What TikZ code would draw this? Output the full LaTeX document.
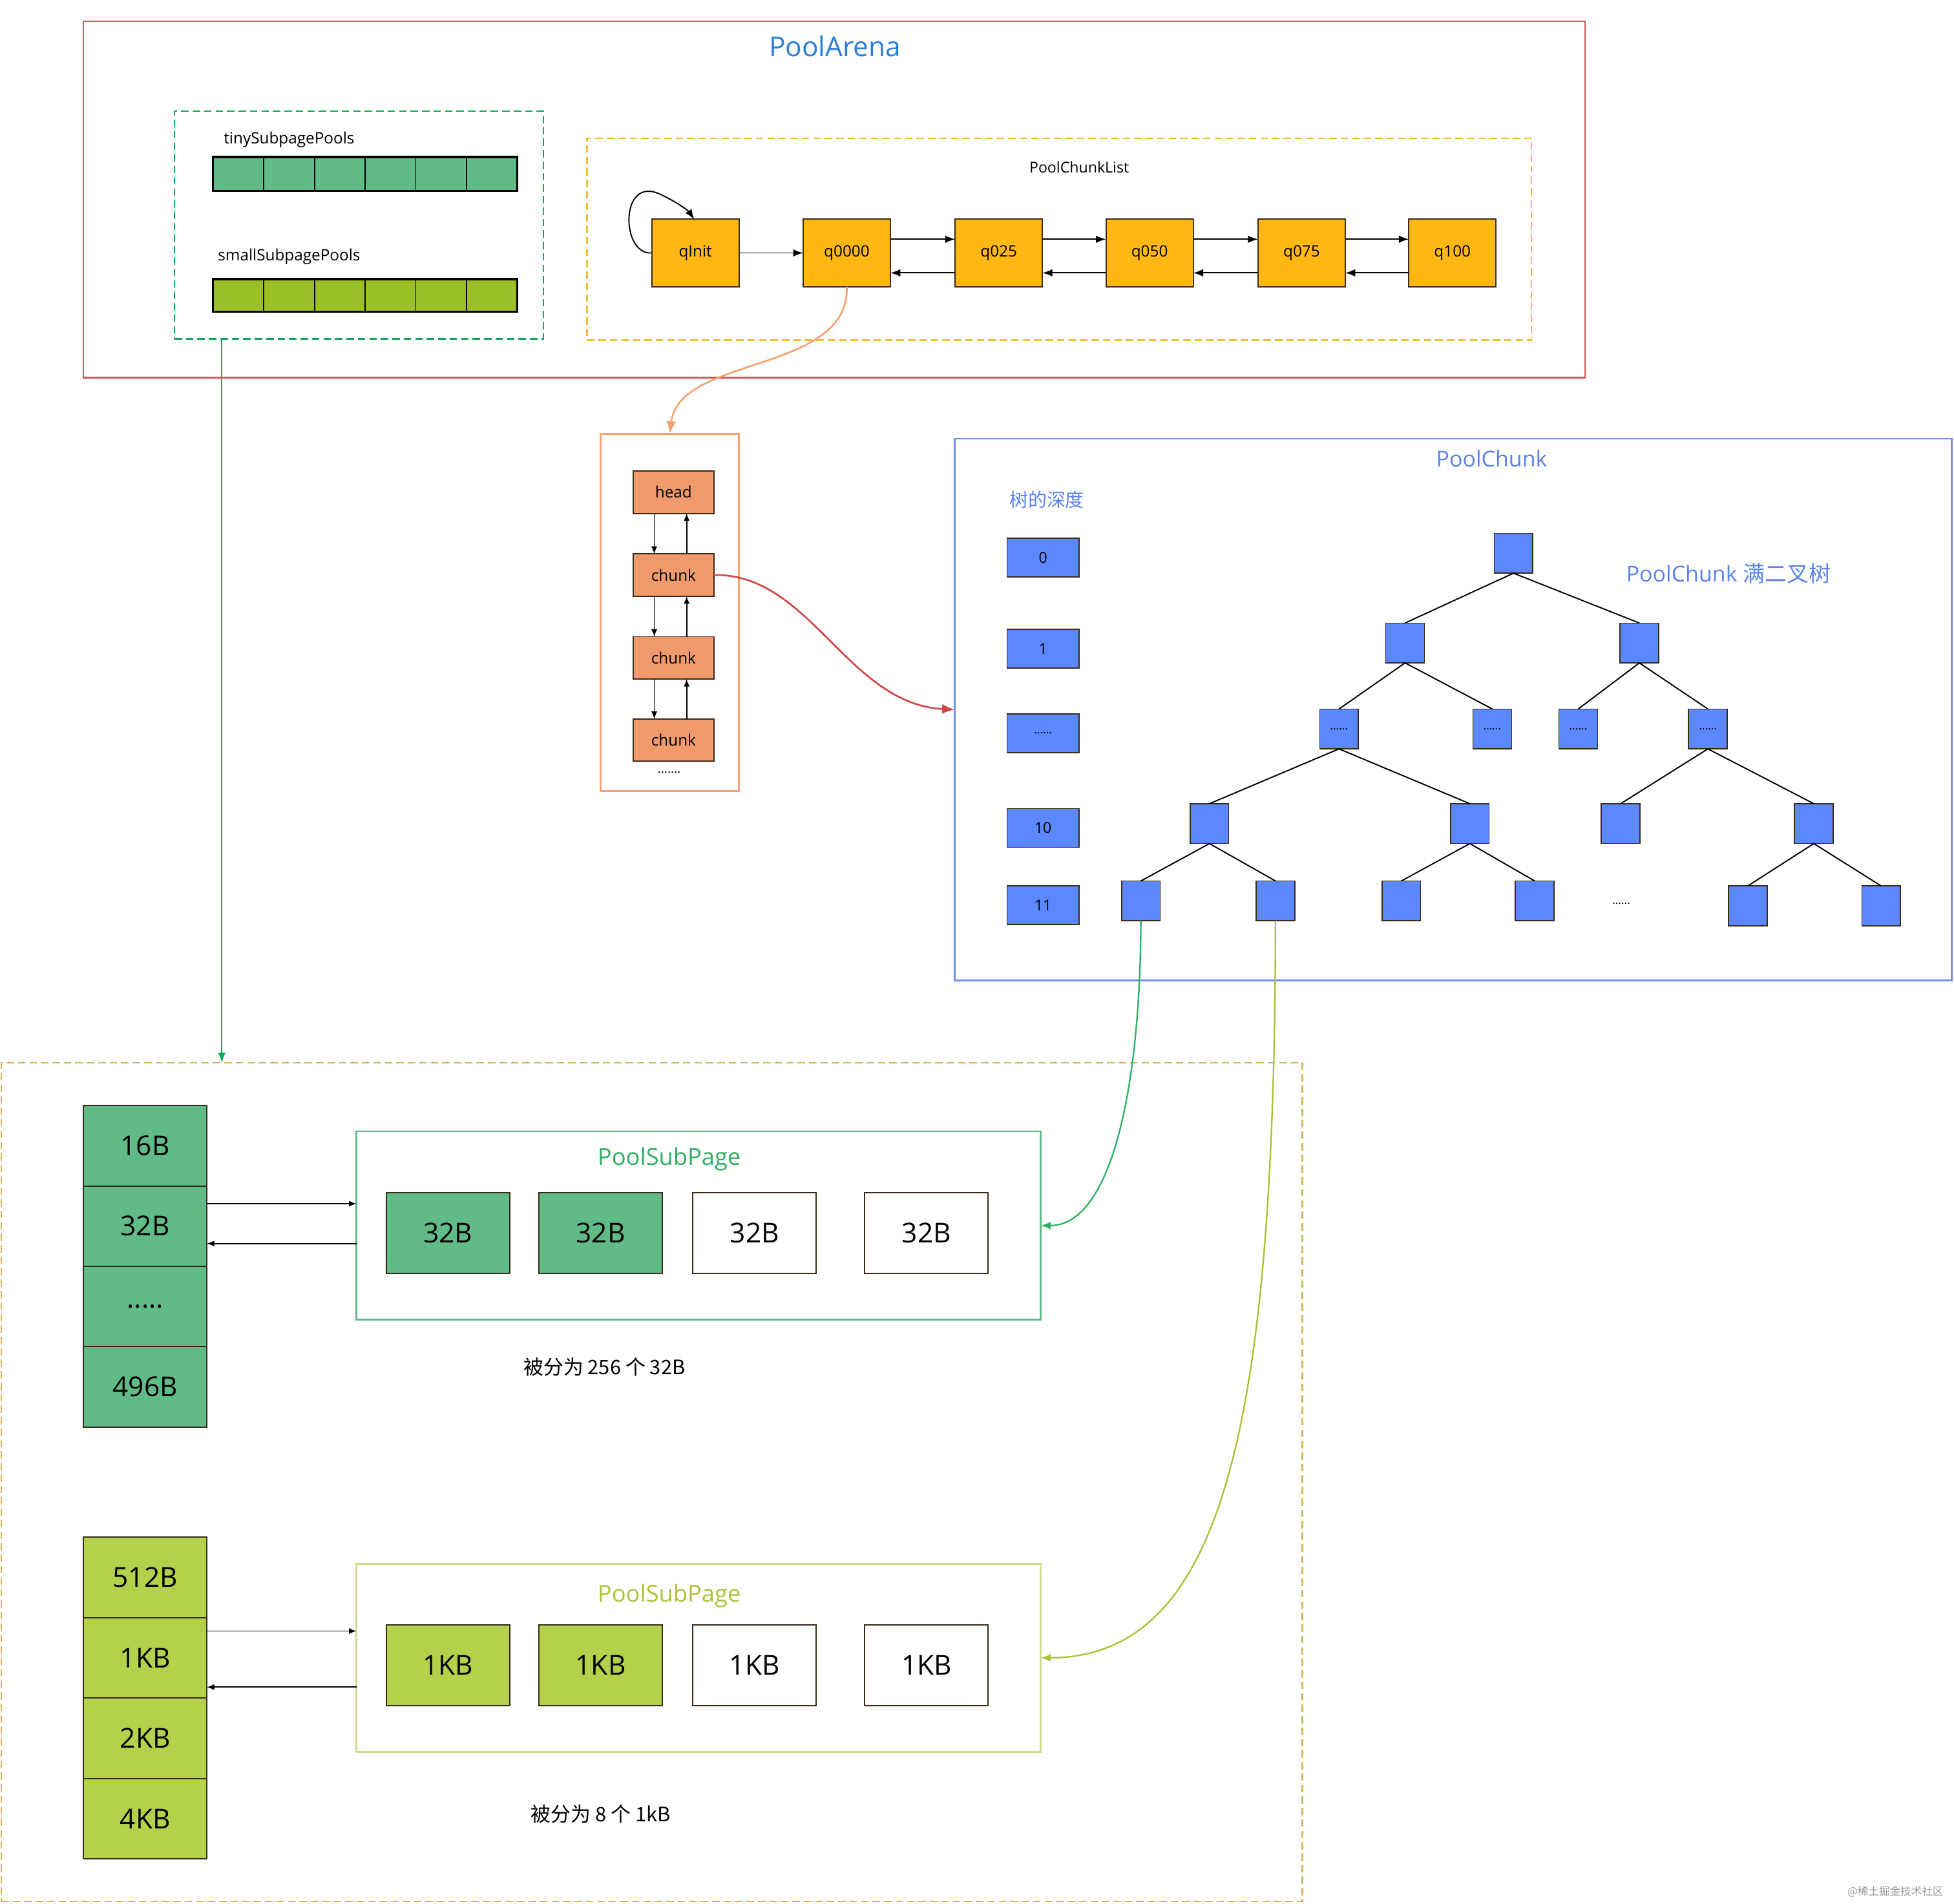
\documentclass[tikz,border=0pt]{standalone}
\usepackage{fontspec}
\setmainfont{Open Sans}
\newfontfamily\cjk{Noto Sans CJK SC}
\usetikzlibrary{arrows.meta}
\definecolor{arenared}{HTML}{D25656}
\definecolor{titleblue}{HTML}{2A7FDB}
\definecolor{dgreen}{HTML}{0FA958}
\definecolor{dgold}{HTML}{F0C030}
\definecolor{poolgreen}{HTML}{61BB87}
\definecolor{poololive}{HTML}{9BBF27}
\definecolor{qyellow}{HTML}{FFB713}
\definecolor{dark}{HTML}{3A2A1A}
\definecolor{corange}{HTML}{F19A6B}
\definecolor{clborder}{HTML}{F4A272}
\definecolor{redarrow}{HTML}{D04848}
\definecolor{chunkblue}{HTML}{7090F0}
\definecolor{chunktext}{HTML}{5B82EC}
\definecolor{tblue}{HTML}{5B87FF}
\definecolor{bgold}{HTML}{D9B45A}
\definecolor{kgreen}{HTML}{B3D14B}
\definecolor{sponeborder}{HTML}{62BB88}
\definecolor{sponetext}{HTML}{2EAD63}
\definecolor{sptwoborder}{HTML}{CCDE8C}
\definecolor{sptwotext}{HTML}{A8C43A}
\definecolor{arrowgreen}{HTML}{2DAF64}
\definecolor{arrowolive}{HTML}{A5C332}
\tikzset{
  box/.style={draw, inner sep=0pt, outer sep=0pt},
  frame/.style={inner sep=0pt, outer sep=0pt, line width=0.6pt},
  qbox/.style={box, draw=dark, fill=qyellow, line width=0.5pt, minimum width=35pt, minimum height=27pt, font=\fontsize{6.3}{7}\selectfont},
  cbox/.style={box, draw=dark, fill=corange, line width=0.5pt, minimum width=32.5pt, minimum height=17pt, font=\fontsize{6.3}{7}\selectfont},
  tnode/.style={box, draw=dark, fill=tblue, line width=0.4pt, minimum width=15.5pt, minimum height=16pt, font=\fontsize{4.5}{5}\selectfont},
  dnode/.style={tnode, minimum width=29pt, minimum height=15.5pt, font=\fontsize{6}{7}\selectfont},
  szcell/.style={box, draw=dark, line width=0.5pt, minimum width=49.5pt, minimum height=32.25pt, font=\fontsize{11}{13}\selectfont},
  pcell/.style={box, draw=dark, line width=0.5pt, minimum width=49.5pt, minimum height=32.5pt, font=\fontsize{11}{13}\selectfont},
  arr/.style={-{Latex[length=4pt,width=3pt]}, line width=0.5pt},
  smallarr/.style={-{Latex[length=3pt,width=2.4pt]}, line width=0.45pt},
  lbl/.style={inner sep=0pt, font=\fontsize{6.3}{7}\selectfont},
}
\begin{document}
\begin{tikzpicture}[x=0.5pt,y=-0.5pt]
\useasboundingbox (0,0) rectangle (1568,1528);

% ---------- PoolArena ----------
\node[frame, draw=arenared, minimum width=602.5pt, minimum height=143pt] (arena) at (669.5,160) {};
\node[inner sep=0pt, text=titleblue, font=\fontsize{11}{13}\selectfont] (arenatitle) at (670,37) {PoolArena};

% subpage pools
\node[frame, draw=dgreen, dash pattern=on 3pt off 1.6pt, minimum width=148pt, minimum height=91.5pt] (gbox) at (288,180.5) {};
\node[lbl] (tinylbl) at (232,112) {tinySubpagePools};
\node[box, fill=poolgreen, draw=black, line width=0.8pt, minimum width=122pt, minimum height=13.5pt] (tinybar) at (293,139.5) {};
\foreach \i in {1,...,5} \draw[line width=0.5pt] (171+40.667*\i,126) -- (171+40.667*\i,153);
\node[lbl] (smalllbl) at (232,206) {smallSubpagePools};
\node[box, fill=poololive, draw=black, line width=0.8pt, minimum width=122pt, minimum height=13pt] (smallbar) at (293,237) {};
\foreach \i in {1,...,5} \draw[line width=0.5pt] (171+40.667*\i,224) -- (171+40.667*\i,250);

% PoolChunkList
\node[frame, draw=dgold, dash pattern=on 3pt off 1.6pt, minimum width=379pt, minimum height=81pt] (ybox) at (850,192) {};
\node[lbl, font=\fontsize{6}{7}\selectfont] (pcl) at (866,134) {PoolChunkList};
\node[qbox] (qInit) at (558,203) {qInit};
\node[qbox] (q0000) at (679.5,203) {q0000};
\node[qbox] (q025) at (801.5,203) {q025};
\node[qbox] (q050) at (922.5,203) {q050};
\node[qbox] (q075) at (1044.5,203) {q075};
\node[qbox] (q100) at (1165.5,203) {q100};
\draw[arr] (qInit.east) -- (q0000.west);
\foreach \a/\b in {q0000/q025,q025/q050,q050/q075,q075/q100}{
  \draw[arr] ([yshift=5.5pt]\a.east) -- ([yshift=5.5pt]\b.west);
  \draw[arr] ([yshift=-8pt]\b.west) -- ([yshift=-8pt]\a.east);
}
\draw[arr] (qInit.west) .. controls (498,205) and (497,140) .. (530,156) .. controls (545,163) and (553,170) .. ([xshift=-0.5pt]qInit.north);

% ---------- chunk list ----------
\node[frame, draw=clborder, line width=0.8pt, minimum width=55.5pt, minimum height=143.5pt] (clist) at (537.5,491.5) {};
\draw[-{Latex[length=5pt,width=4pt]}, draw=clborder, line width=0.7pt] (q0000.south) .. controls (682,300) and (545,285) .. (clist.north);
\node[cbox] (head) at (540.5,395) {head};
\node[cbox] (chunka) at (540.5,461.5) {chunk};
\node[cbox] (chunkb) at (540.5,528) {chunk};
\node[cbox] (chunkc) at (540.5,594) {chunk};
\foreach \a/\b in {head/chunka,chunka/chunkb,chunkb/chunkc}{
  \draw[smallarr] ([xshift=-7.75pt]\a.south) -- ([xshift=-7.75pt]\b.north);
  \draw[smallarr] ([xshift=5.25pt]\b.north) -- ([xshift=5.25pt]\a.south);
}
\node[lbl, font=\fontsize{5}{6}\selectfont] (cdots) at (537,620) {.......};

% ---------- PoolChunk ----------
\node[frame, draw=chunkblue, line width=0.7pt, minimum width=400pt, minimum height=217.5pt] (pchunk) at (1166,569.5) {};
\draw[-{Latex[length=5pt,width=4pt]}, draw=redarrow, line width=0.7pt] (chunka.east) .. controls (650,460) and (680,565) .. (pchunk.west);
\node[inner sep=0pt, text=chunktext, font=\fontsize{8.8}{10}\selectfont] (pctitle) at (1197,368) {PoolChunk};
\node[inner sep=0pt, text=chunktext, font=\cjk\fontsize{7.5}{9}\selectfont] (depthlbl) at (840,401) {树的深度};
\node[inner sep=0pt, text=chunktext, font=\fontsize{8.8}{10}\selectfont] (fulltree) at (1387,460) {PoolChunk {\cjk 满二叉树}};

\node[dnode] (d0) at (837,447.5) {0};
\node[dnode] (d1) at (837,520.5) {1};
\node[dnode, font=\fontsize{4.5}{5}\selectfont] (d2) at (837,588.5) {......};
\node[dnode] (d10) at (837,664.5) {10};
\node[dnode] (d11) at (837,726.5) {11};

\node[tnode] (t0) at (1214.5,444) {};
\node[tnode] (t1a) at (1127.5,516) {};
\node[tnode] (t1b) at (1315.5,516) {};
\node[tnode] (t2a) at (1074.5,585) {......};
\node[tnode] (t2b) at (1197.5,585) {......};
\node[tnode] (t2c) at (1266.5,585) {......};
\node[tnode] (t2d) at (1370.5,585) {......};
\node[tnode] (t3a) at (970.5,661) {};
\node[tnode] (t3b) at (1179.5,661) {};
\node[tnode] (t3c) at (1300.5,661) {};
\node[tnode] (t3d) at (1455.5,661) {};
\node[tnode] (t4a) at (915.5,723) {};
\node[tnode] (t4b) at (1023.5,723) {};
\node[tnode] (t4c) at (1124.5,723) {};
\node[tnode] (t4d) at (1231.5,723) {};
\node[tnode] (t4e) at (1402.5,727) {};
\node[tnode] (t4f) at (1509.5,727) {};
\node[lbl, font=\fontsize{4.5}{5}\selectfont] (tdots) at (1301,725) {......};
\foreach \a/\b in {t0/t1a,t0/t1b,t1a/t2a,t1a/t2b,t1b/t2c,t1b/t2d,t2a/t3a,t2a/t3b,t2d/t3c,t2d/t3d,t3a/t4a,t3a/t4b,t3b/t4c,t3b/t4d,t3d/t4e,t3d/t4f}
  \draw[line width=0.5pt] (\a.south) -- (\b.north);

% ---------- bottom area ----------
\node[frame, draw=bgold, dash pattern=on 3pt off 1.6pt, minimum width=522pt, minimum height=336.5pt] (bbox) at (523,1189.5) {};
\draw[-{Latex[length=4pt,width=3pt]}, draw=dgreen, line width=0.6pt] ([xshift=-55pt]gbox.south) -- ([xshift=-55pt]gbox.south |- bbox.north);

% column 1
\node[szcell, fill=poolgreen] (s16) at (116.5,919.5) {16B};
\node[szcell, fill=poolgreen] (s32) at (116.5,984) {32B};
\node[szcell, fill=poolgreen] (sdots) at (116.5,1048.5) {.....};
\node[szcell, fill=poolgreen] (s496) at (116.5,1113) {496B};

\node[frame, draw=sponeborder, minimum width=274.5pt, minimum height=75.5pt] (spone) at (560.5,983.5) {};
\node[inner sep=0pt, text=sponetext, font=\fontsize{9.4}{11}\selectfont] (sponetitle) at (537,930) {PoolSubPage};
\node[pcell, fill=poolgreen] (pa1) at (359.5,989.5) {32B};
\node[pcell, fill=poolgreen] (pa2) at (482,989.5) {32B};
\node[pcell, fill=white] (pa3) at (605.5,989.5) {32B};
\node[pcell, fill=white] (pa4) at (743.5,989.5) {32B};
\draw[smallarr] (s32.east |- 0,966) -- (spone.west |- 0,966);
\draw[smallarr] (spone.west |- 0,998) -- (s32.east |- 0,998);
\node[inner sep=0pt, font=\cjk\fontsize{8}{9}\selectfont] (noteone) at (485,1097) {被分为 256 个 32B};

% column 2
\node[szcell, fill=kgreen] (k512) at (116.5,1266) {512B};
\node[szcell, fill=kgreen] (k1) at (116.5,1330.5) {1KB};
\node[szcell, fill=kgreen] (k2) at (116.5,1395) {2KB};
\node[szcell, fill=kgreen] (k4) at (116.5,1459.5) {4KB};

\node[frame, draw=sptwoborder, minimum width=274.5pt, minimum height=75.5pt] (sptwo) at (560.5,1330.5) {};
\node[inner sep=0pt, text=sptwotext, font=\fontsize{9.4}{11}\selectfont] (sptwotitle) at (537,1281) {PoolSubPage};
\node[pcell, fill=kgreen] (pb1) at (359.5,1336.5) {1KB};
\node[pcell, fill=kgreen] (pb2) at (482,1336.5) {1KB};
\node[pcell, fill=white] (pb3) at (605.5,1336.5) {1KB};
\node[pcell, fill=white] (pb4) at (743.5,1336.5) {1KB};
\draw[smallarr] (k1.east |- 0,1309) -- (sptwo.west |- 0,1309);
\draw[smallarr] (sptwo.west |- 0,1354) -- (k1.east |- 0,1354);
\node[inner sep=0pt, font=\cjk\fontsize{8}{9}\selectfont] (notetwo) at (482,1456) {被分为 8 个 1kB};

% leaf connectors
\draw[-{Latex[length=4pt,width=3pt]}, draw=arrowgreen, line width=0.6pt] (t4a.south) .. controls (915,880) and (890,984) .. (spone.east);
\draw[-{Latex[length=4pt,width=3pt]}, draw=arrowolive, line width=0.6pt] (t4b.south) .. controls (1023,1150) and (980,1330) .. (sptwo.east);

% watermark
\node[inner sep=0pt, text=black!40, font=\cjk\fontsize{4.3}{5}\selectfont] (wm) at (1521,1518) {@稀土掘金技术社区};
\end{tikzpicture}
\end{document}
